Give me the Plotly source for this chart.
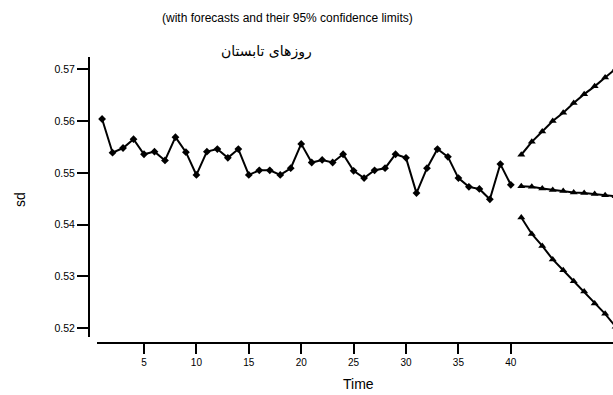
import plotly.graph_objects as go

time_obs = list(range(1, 41))
sd_obs = [0.5604, 0.5539, 0.5548, 0.5565, 0.5536, 0.5541, 0.5524, 0.5569, 0.5540, 0.5496,
          0.5541, 0.5546, 0.5529, 0.5546, 0.5496, 0.5505, 0.5505, 0.5496, 0.5509, 0.5556,
          0.5520, 0.5525, 0.5520, 0.5536, 0.5504, 0.5490, 0.5505, 0.5509, 0.5536, 0.5529,
          0.5461, 0.5509, 0.5546, 0.5531, 0.5490, 0.5473, 0.5469, 0.5449, 0.5517, 0.5477]

time_fc = list(range(41, 51))
sd_fc = [0.5474, 0.5473, 0.5470, 0.5467, 0.5465, 0.5462, 0.5461, 0.5459, 0.5457, 0.5455]
sd_upper = [0.5535, 0.5560, 0.5580, 0.5600, 0.5616, 0.5635, 0.5652, 0.5667, 0.5684, 0.5701]
sd_lower = [0.5414, 0.5382, 0.5359, 0.5333, 0.5312, 0.5291, 0.5271, 0.5248, 0.5228, 0.5203]

x_ticks = [5, 10, 15, 20, 25, 30, 35, 40]
y_ticks = [0.52, 0.53, 0.54, 0.55, 0.56, 0.57]

W, H = 613, 395
line = dict(color="black", width=2)

fig = go.Figure()
fig.add_trace(go.Scatter(x=time_obs, y=sd_obs, mode="lines+markers", line=line,
                         marker=dict(symbol="diamond", size=6, color="black")))
for ys in (sd_upper, sd_fc, sd_lower):
    fig.add_trace(go.Scatter(x=time_fc, y=ys, mode="lines+markers", line=line,
                             marker=dict(symbol="triangle-up", size=7, color="black")))

fig.update_layout(
    width=W, height=H, margin=dict(l=0, r=0, t=0, b=0),
    paper_bgcolor="white", plot_bgcolor="white", showlegend=False,
    font=dict(family="Liberation Sans, Arial, sans-serif", color="black"),
    xaxis=dict(domain=[97 / W, 1], range=[0.515, 49.75], anchor="free",
               position=(H - 343) / H, tickvals=x_ticks, ticks="outside", ticklen=10,
               tickwidth=2, tickcolor="black", showline=True, linewidth=2, linecolor="black",
               showgrid=False, zeroline=False, tickfont=dict(size=10)),
    yaxis=dict(domain=[(H - 337) / H, (H - 57) / H], range=[0.51832, 0.57237], anchor="free",
               position=89 / W, tickvals=y_ticks, tickformat=".2f", ticks="outside", ticklen=11,
               tickwidth=2, tickcolor="black", showline=True, linewidth=2, linecolor="black",
               showgrid=False, zeroline=False, tickfont=dict(size=10.5)),
    annotations=[
        dict(text="(with forecasts and their 95% confidence limits)", x=287 / W, y=1 - 18 / H,
             xref="paper", yref="paper", showarrow=False, font=dict(size=12),
             xanchor="center", yanchor="middle"),
        dict(text="روزهای تابستان", x=266 / W, y=1 - 51 / H, xref="paper", yref="paper",
             showarrow=False, font=dict(size=14, family="DejaVu Sans"),
             xanchor="center", yanchor="middle"),
        dict(text="Time", x=358 / W, y=1 - 384 / H, xref="paper", yref="paper",
             showarrow=False, font=dict(size=14), xanchor="center", yanchor="middle"),
        dict(text="sd", x=20 / W, y=1 - 200 / H, xref="paper", yref="paper", textangle=-90,
             showarrow=False, font=dict(size=14), xanchor="center", yanchor="middle"),
    ],
)

fig.write_html("out.html")
